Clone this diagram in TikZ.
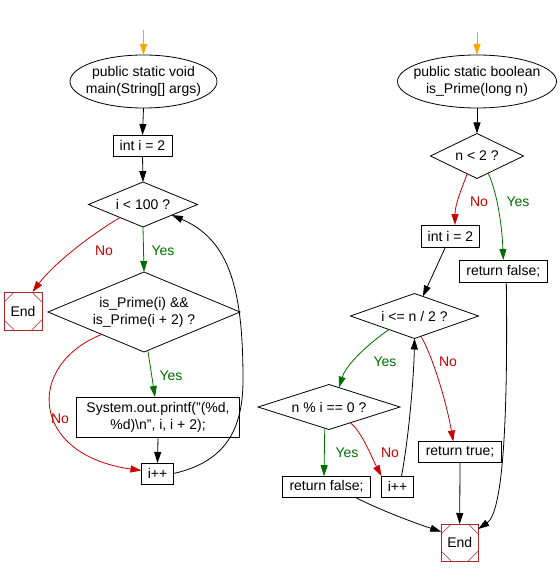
\documentclass[tikz,border=0pt]{standalone}
\usepackage{fontspec}
\setmainfont{Liberation Sans}
\usetikzlibrary{shapes.geometric,arrows.meta,calc}
\definecolor{yesc}{RGB}{0,110,0}
\definecolor{noc}{RGB}{204,0,0}
\definecolor{startc}{RGB}{255,165,0}
\definecolor{endc}{RGB}{170,40,40}
\newcommand{\mkz}[1]{\makebox[0pt]{#1}}
\begin{document}
\begin{tikzpicture}[x=1pt,y=-1pt,
  font=\fontsize{14}{17}\selectfont,
  every node/.style={inner sep=0pt, outer sep=0pt},
  flow/.style={line width=0.8pt, -{Triangle[length=11pt,width=7pt]}},
  arr/.style={flow, color=black},
  yesarr/.style={flow, color=yesc},
  noarr/.style={flow, color=noc},
  startarr/.style={flow, color=startc},
  box/.style={draw, line width=0.8pt, rectangle, align=center},
  dia/.style={draw, diamond, line width=0.8pt, align=center},
  ell/.style={draw, ellipse, line width=0.8pt, align=center},
  endbox/.style={draw=endc, line width=0.8pt, rectangle, minimum size=38pt,
    path picture={
      \def\ppbb{path picture bounding box}
      \draw[endc, line width=0.6pt]
        ($(\ppbb.north west)!0.27!(\ppbb.north east)$) -- ($(\ppbb.north west)!0.27!(\ppbb.south west)$)
        ($(\ppbb.north east)!0.27!(\ppbb.north west)$) -- ($(\ppbb.north east)!0.27!(\ppbb.south east)$)
        ($(\ppbb.south west)!0.27!(\ppbb.south east)$) -- ($(\ppbb.south west)!0.27!(\ppbb.north west)$)
        ($(\ppbb.south east)!0.27!(\ppbb.south west)$) -- ($(\ppbb.south east)!0.27!(\ppbb.north east)$);
    }},
  ylbl/.style={text=yesc},
  nlbl/.style={text=noc}]

\fill[white] (0,0) rectangle (559,577);
\useasboundingbox (0,0) rectangle (559,577);

% ---------- left: main ----------
\coordinate (s1) at (143.5,30);
\node[ell, minimum width=147pt, minimum height=53pt] (e1) at (143.5,81.5)
  {\mkz{public static void}\\\mkz{main(String[] args)}};
\node[box, minimum width=59pt, minimum height=21pt] (b1) at (142.5,145.5) {int i = 2};
\node[dia, aspect=2.42, minimum width=109pt, minimum height=45pt] (d1) at (143,204.5) {i < 100 ?};
\node[dia, aspect=2.4, minimum width=192pt, minimum height=80pt] (d2) at (144,312)
  {is\_Prime(i) \&\&\\is\_Prime(i + 2) ?};
\node[endbox] (n1) at (23,311) {End};
\node[box, minimum width=163pt, minimum height=40pt] (b2) at (158,417)
  {System.out.printf("(\%d,\\\%d)\textbackslash n", i, i + 2);};
\node[box, minimum width=32pt, minimum height=21pt] (b3) at (157.5,473.5) {i++};
\coordinate (lp) at (243,380);

\draw[startarr] (s1) -- (e1.north);
\draw[arr] (e1.south) -- (b1.north);
\draw[arr] (b1.south) -- (d1.north);
\draw[yesarr] (d1.south) -- (d2.north);
\draw[noarr] ($(d1.south)!0.42!(d1.west)$) .. controls (95,232) and (55,262) .. ($(n1.north)!0.5!(n1.north east)$);
\draw[yesarr] ($(d2.south)!0.04!(d2.east)$) -- ([xshift=-3pt]b2.north);
\draw[arr] (b2.south) -- (b3.north);
\draw[noarr] ($(d2.south)!0.44!(d2.west)$) .. controls (25,365) and (30,455) .. ([yshift=3pt]b3.west);
\draw[arr] (b3.east) .. controls (225,462) and (243,430) .. (lp)
  .. controls (243,290) and (230,240) .. ($(d1.south)!0.53!(d1.east)$);

\node[ylbl] (y1) at (163,251) {Yes};
\node[nlbl] (no1) at (104,251) {No};
\node[ylbl] (y2) at (171,376) {Yes};
\node[nlbl] (no2) at (60,419) {No};

% ---------- right: is_Prime ----------
\coordinate (s2) at (477,32);
\node[ell, minimum width=159pt, minimum height=53pt] (e2) at (477,81.5)
  {\mkz{public static boolean}\\\mkz{is\_Prime(long n)}};
\node[dia, aspect=2.07, minimum width=93pt, minimum height=45pt] (d3) at (477,156) {n < 2 ?};
\node[box, minimum width=58pt, minimum height=22pt] (b4) at (450.5,236) {int i = 2};
\node[box, minimum width=88pt, minimum height=22pt] (b5) at (503.3,271) {return false;};
\node[dia, aspect=2.84, minimum width=128pt, minimum height=45pt] (d4) at (414.5,316) {i <= n / 2 ?};
\node[dia, aspect=3.16, minimum width=142pt, minimum height=45pt] (d5) at (329,407) {n \% i == 0 ?};
\node[box, minimum width=83pt, minimum height=21pt] (b6) at (460,452) {return true;};
\node[box, minimum width=88pt, minimum height=21pt] (b7) at (326.5,486.7) {return false;};
\node[box, minimum width=32pt, minimum height=21pt] (b8) at (397.5,486.7) {i++};
\node[endbox, minimum size=37pt] (n2) at (459.7,542.5) {End};

\draw[startarr] (s2) -- (e2.north);
\draw[arr] (e2.south) -- (d3.north);
\draw[noarr] ($(d3.south)!0.21!(d3.west)$) .. controls (461,190) and (455,205) .. ([xshift=4.5pt]b4.north);
\draw[yesarr] ($(d3.south)!0.24!(d3.east)$) .. controls (497,192) and (502,225) .. (b5.north);
\draw[arr] ([xshift=-5pt]b4.south) -- ($(d4.north)!0.13!(d4.east)$);
\draw[yesarr] ($(d4.south)!0.4!(d4.west)$) .. controls (360,350) and (345,368) .. ($(d5.north)!0.14!(d5.east)$);
\draw[noarr] ($(d4.south)!0.1!(d4.east)$) .. controls (432,355) and (446,400) .. ([xshift=-6.7pt]b6.north);
\draw[arr] (b6.south) -- (n2.north);
\draw[yesarr] ($(d5.south)!0.06!(d5.west)$) -- ([xshift=-2.5pt]b7.north);
\draw[noarr] ($(d5.south)!0.3!(d5.east)$) .. controls (362,432) and (372,458) .. (b8.north west);
\draw[arr] ([xshift=4pt]b8.north) .. controls (410,430) and (414,370) .. (d4.south);
\draw[arr] ([xshift=28.5pt]b7.south) .. controls (370,505) and (400,518) .. ([yshift=10.8pt]n2.west);
\draw[arr] ([xshift=3pt]b5.south) .. controls (508,420) and (503,512) .. ([yshift=13.5pt]n2.east);

\node[ylbl] (y3) at (518,202) {Yes};
\node[nlbl] (no3) at (479,202) {No};
\node[ylbl] (y4) at (385,362) {Yes};
\node[nlbl] (no4) at (448,362) {No};
\node[ylbl] (y5) at (347,453) {Yes};
\node[nlbl] (no5) at (390,453) {No};
\end{tikzpicture}
\end{document}
